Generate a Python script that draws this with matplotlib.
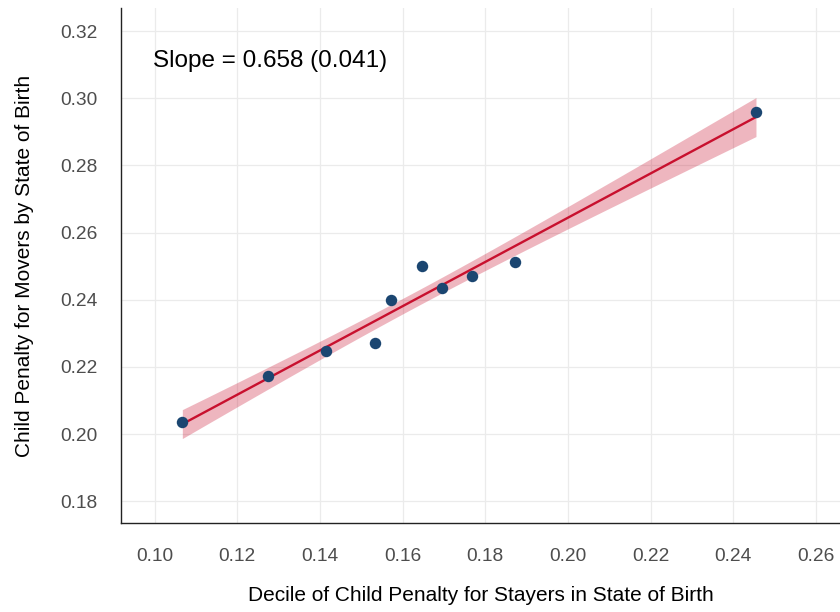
import matplotlib.pyplot as plt
import numpy as np

plt.rcParams['font.family'] = ['Liberation Sans', 'DejaVu Sans']

# stayers (x) vs movers (y) child penalty by decile
stayers = [0.1067, 0.1274, 0.1415, 0.1533, 0.1571, 0.1647, 0.1696, 0.1767, 0.1873, 0.2455]
movers = [0.2035, 0.2172, 0.2248, 0.2272, 0.2399, 0.2500, 0.2436, 0.2472, 0.2512, 0.2959]
xticks = [0.10, 0.12, 0.14, 0.16, 0.18, 0.20, 0.22, 0.24, 0.26]
yticks = [0.18, 0.20, 0.22, 0.24, 0.26, 0.28, 0.30, 0.32]
slope_label = "Slope = 0.658 (0.041)"

x = np.array(stayers)
y = np.array(movers)

# OLS fit + confidence band
b, a = np.polyfit(x, y, 1)
n = len(x)
resid = y - (a + b * x)
s = np.sqrt(np.sum(resid ** 2) / (n - 2))
xs = np.linspace(x.min(), x.max(), 100)
se = s * np.sqrt(1 / n + (xs - x.mean()) ** 2 / np.sum((x - x.mean()) ** 2))
t = 1.6
fit = a + b * xs

fig = plt.figure(figsize=(8.4, 6.12), dpi=100)
ax = fig.add_axes([0.144, 0.1454, 0.856, 0.8415])

ax.fill_between(xs, fit - t * se, fit + t * se, color='#C8102E', alpha=0.3, lw=0, zorder=2)
ax.plot(xs, fit, color='#C8102E', lw=1.7, zorder=3)
ax.scatter(x, y, s=68, color='#1B4671', zorder=4, lw=0)

ax.text(0.0996, 0.3111, slope_label, fontsize=17.5, ha='left', va='center')

ax.set_xlim(0.09185, 0.26583)
ax.set_ylim(0.1735, 0.3269)
ax.set_xticks(xticks)
ax.set_yticks(yticks)
ax.set_xticklabels([f"{v:.2f}" for v in xticks])
ax.set_yticklabels([f"{v:.2f}" for v in yticks])
ax.tick_params(length=0, labelsize=13.8, labelcolor='#4d4d4d')
ax.tick_params(axis='x', pad=18)
ax.tick_params(axis='y', pad=17)

ax.grid(True, color='#ebebeb', lw=0.9)
ax.set_axisbelow(True)
for side in ['top', 'right']:
    ax.spines[side].set_visible(False)
for side in ['left', 'bottom']:
    ax.spines[side].set_color('#222222')
    ax.spines[side].set_linewidth(1.0)

ax.set_xlabel("Decile of Child Penalty for Stayers in State of Birth", fontsize=15, labelpad=15)
ax.set_ylabel("Child Penalty for Movers by State of Birth", fontsize=15, labelpad=18.5)

fig.savefig("out.png", dpi=100)
